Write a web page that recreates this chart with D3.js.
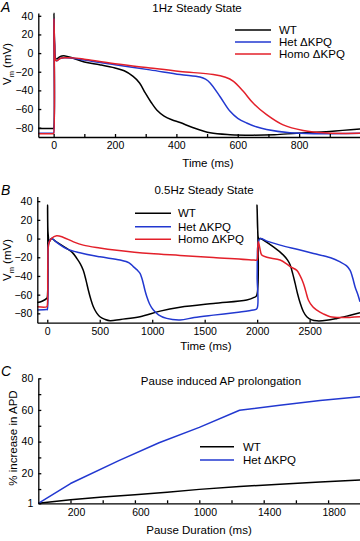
<!DOCTYPE html>
<html>
<head>
<meta charset="utf-8">
<script src="https://cdn.jsdelivr.net/npm/d3@7"></script>
<style>
  body { margin: 0; background: #fff; }
  svg { font-family: "Liberation Sans", Arial, Helvetica, sans-serif; }
  .axis path, .axis line { stroke: #000; stroke-width: 1.3; }
  .axis text { font-size: 10.5px; fill: #000; }
</style>
</head>
<body>
<script>
// ---- data: [time (ms), Vm (mV)] ----
const wtA = [[-50,-81],[-1,-81],[0,-81],[1,43],[3,10],[7,-6],[12,-6],[22,-3.5],[37,-3],[60,-5],[100,-9.5],[150,-12.5],[200,-16],[230,-19],[259,-25],[280,-32],[298,-42.5],[318,-53],[336,-61],[360,-67.5],[385,-71.5],[412,-74.5],[455,-80],[510,-85.5],[575,-87.5],[650,-88],[720,-87.5],[792,-86],[900,-84],[1000,-81.5]]
const hetA = [[-50,-86],[-1,-86],[0,-86],[1,37],[3,10],[7,-8],[12,-8],[22,-5.5],[37,-5],[75,-6],[100,-7.5],[200,-12.5],[314,-18],[412,-23],[477,-25.7],[495,-28],[510,-32],[542,-46.5],[575,-62.5],[600,-70],[629,-75],[660,-79],[694,-82],[770,-85.5],[850,-86.5],[1000,-86]]
const homoA = [[-50,-86.5],[-1,-86.5],[0,-86.5],[1,37],[3,10],[7,-8],[12,-8],[22,-5.5],[37,-5],[75,-5.4],[100,-6.5],[200,-11.5],[314,-16],[412,-19.7],[520,-23],[560,-26],[585,-30],[618,-41],[650,-53.6],[694,-66],[748,-77],[813,-83],[890,-85.7],[1000,-86]]

const wtB = [[-95,-68.5],[-50,-67],[-5,-64],[0,-63],[3,36],[8,5],[20,-3],[42,0],[80,-3],[185,-10.6],[240,-15],[280,-21],[315,-27],[343,-34],[370,-45],[391,-55],[415,-65],[439,-73],[470,-79.5],[502,-83.6],[550,-86.5],[598,-88],[700,-86.5],[884,-83.6],[1075,-77.6],[1265,-73.5],[1583,-69.4],[1901,-65.8],[1971,-63],[1995,-61],[1999,36],[2005,10],[2015,0],[2030,0],[2155,-9],[2250,-17.7],[2290,-23],[2314,-28],[2340,-38],[2362,-48],[2385,-59],[2410,-69],[2440,-78],[2473,-83.6],[2520,-87],[2569,-88],[2660,-87.5],[2760,-85.4],[2870,-82.5],[2980,-79.4]]
const hetB = [[-95,-76.5],[-5,-76],[0,-76],[6,-30],[15,-5],[40,0],[100,-5],[185,-11],[300,-15],[502,-19.5],[694,-23],[780,-26],[820,-30],[860,-34],[884,-37.3],[900,-42],[915,-48],[930,-55],[948,-62],[975,-70],[1011,-76.5],[1060,-81.5],[1138,-85.4],[1265,-87],[1400,-84.5],[1583,-81.9],[1800,-79],[1964,-76.5],[1998,-75],[2000,-40],[2010,-5],[2028,0],[2100,-3],[2219,-7],[2400,-12],[2537,-16],[2700,-20.5],[2791,-25],[2850,-29],[2886,-34],[2910,-42],[2934,-52],[2960,-60],[2980,-67.6]]
const homoB = [[-95,-73],[-5,-73],[0,-72],[5,-30],[15,-5],[40,0],[89,3],[150,1.5],[250,-3.5],[343,-7],[500,-10],[662,-12.4],[979,-16],[1265,-18],[1583,-20.2],[1971,-23],[1998,-23],[2005,-10],[2012,-3.5],[2025,-10],[2044,-17.7],[2092,-20],[2219,-23],[2280,-27],[2314,-30],[2378,-34],[2410,-40],[2441,-48],[2465,-57],[2489,-66],[2530,-73],[2569,-76.5],[2630,-80.5],[2696,-83.6],[2800,-84.5],[2980,-83.6]]

// pause duration (ms) vs % increase in APD
const wtC = [[0,1],[200,3.2],[400,5],[600,6.4],[800,8],[1000,9.8],[1250,11.6],[1500,13],[1750,14.5],[2000,15.8]]
const hetC = [[0,1],[200,13.5],[500,28],[750,39.3],[1000,49],[1250,59.8],[1500,63],[1750,66],[2000,68.4]]

const legendABC = ['WT', 'Het \u0394KPQ', 'Homo \u0394KPQ']
const colors = ['#000000', '#2238d0', '#e3202a']

const yTicksAB = [-80, -60, -40, -20, 0, 20, 40]
const xTicksA = [0, 100, 200, 300, 400, 500, 600, 700, 800, 900]
const xLabelsA = [0, 200, 400, 600, 800]
const xTicksB = [0, 500, 1000, 1500, 2000, 2500]
const xTicksC = [200, 400, 600, 800, 1000, 1200, 1400, 1600, 1800, 2000]
const xLabelsC = [200, 600, 1000, 1400, 1800]
const yTicksC = [1, 10, 20, 30, 40, 50, 60, 70, 80]
const yLabelsC = [1, 20, 40, 60, 80]

const svg = d3.select('body').append('svg')
  .attr('width', 360)
  .attr('height', 541)

const fmt = d3.format('')

function panel(cfg) {
  const x = d3.scaleLinear().domain(cfg.xd).range(cfg.xr)
  const y = d3.scaleLinear().domain(cfg.yd).range(cfg.yr)

  const line = d3.line()
    .x(d => x(d[0]))
    .y(d => y(d[1]))
    .curve(cfg.curve)

  cfg.series.forEach((s, i) => {
    svg.append('path')
      .datum(s)
      .attr('d', line)
      .attr('fill', 'none')
      .attr('stroke', colors[i])
      .attr('stroke-width', 1.5)
      .attr('stroke-linejoin', 'round')
  })

  const xa = svg.append('g')
    .attr('class', 'axis')
    .attr('transform', `translate(0,${cfg.yr[0]})`)
    .call(d3.axisBottom(x)
      .tickValues(cfg.xTicks)
      .tickSizeInner(-3)
      .tickSizeOuter(0)
      .tickPadding(5)
      .tickFormat(d => cfg.xLabels.includes(d) ? fmt(d) : ''))
  if (cfg.xShift) xa.selectAll('text').attr('dx', cfg.xShift)

  svg.append('g')
    .attr('class', 'axis')
    .attr('transform', `translate(${cfg.xr[0]},0)`)
    .call(d3.axisLeft(y)
      .tickValues(cfg.yTicks)
      .tickSizeInner(-3)
      .tickSizeOuter(0)
      .tickPadding(5)
      .tickFormat(d => cfg.yLabels.includes(d) ? fmt(d) : ''))

  // legend
  cfg.legend.rows.forEach((r, i) => {
    const ly = cfg.legend.y[i]
    svg.append('line')
      .attr('x1', cfg.legend.x1).attr('x2', cfg.legend.x2)
      .attr('y1', ly).attr('y2', ly)
      .attr('stroke', colors[i]).attr('stroke-width', 1.5)
    svg.append('text')
      .attr('x', cfg.legend.tx).attr('y', ly + 4)
      .attr('font-size', 11.5)
      .text(r)
  })

  svg.append('text')
    .attr('x', cfg.title[1]).attr('y', cfg.title[2])
    .attr('text-anchor', 'middle')
    .attr('font-size', 11.5)
    .text(cfg.title[0])

  svg.append('text')
    .attr('x', cfg.xlab[1]).attr('y', cfg.xlab[2])
    .attr('text-anchor', 'middle')
    .attr('font-size', 11.5)
    .text(cfg.xlab[0])

  const yl = svg.append('text')
    .attr('transform', `translate(${cfg.ylab[1]},${cfg.ylab[2]}) rotate(-90)`)
    .attr('text-anchor', 'middle')
    .attr('font-size', 11.5)
  if (cfg.ylab[0] === 'Vm') {
    yl.append('tspan').text('V')
    yl.append('tspan').attr('font-size', 7.5).attr('dy', 3).text('m')
    yl.append('tspan').attr('dy', -3).text(' (mV)')
  } else {
    yl.text(cfg.ylab[0])
  }

  svg.append('text')
    .attr('x', 1).attr('y', cfg.letter[1])
    .attr('font-size', 14)
    .attr('font-style', 'italic')
    .text(cfg.letter[0])
}

const smooth = d3.curveCatmullRom.alpha(0.5)

panel({
  series: [wtA, hetA, homoA],
  xd: [-50, 1000], xr: [38.3, 360.5],
  yd: [-90, 43], yr: [137, 13],
  curve: smooth,
  xTicks: xTicksA, xLabels: xLabelsA,
  yTicks: yTicksAB, yLabels: yTicksAB,
  legend: { rows: legendABC, x1: 235, x2: 271, tx: 279, y: [30, 42, 54] },
  title: ['1Hz Steady State', 197, 12],
  xlab: ['Time (ms)', 208, 167],
  ylab: ['Vm', 11, 64],
  letter: ['A', 12]
})

panel({
  series: [wtB, hetB, homoB],
  xd: [-95, 2980], xr: [37.3, 360],
  yd: [-90, 45], yr: [322.7, 196.5],
  curve: smooth,
  xTicks: xTicksB, xLabels: xTicksB,
  yTicks: yTicksAB, yLabels: yTicksAB,
  legend: { rows: legendABC, x1: 135, x2: 171, tx: 178, y: [213.3, 226.7, 239.3] },
  title: ['0.5Hz Steady State', 204, 194],
  xlab: ['Time (ms)', 206, 350],
  ylab: ['Vm', 11, 260],
  letter: ['B', 195]
})

panel({
  series: [wtC, hetC],
  xd: [0, 2000], xr: [38.3, 360.3],
  yd: [1, 80], yr: [503.3, 378.3],
  curve: d3.curveLinear,
  xTicks: xTicksC, xLabels: xLabelsC, xShift: 5.5,
  yTicks: yTicksC, yLabels: yLabelsC,
  legend: { rows: legendABC.slice(0, 2), x1: 200, x2: 234, tx: 243, y: [446.7, 460] },
  title: ['Pause induced AP prolongation', 221, 385],
  xlab: ['Pause Duration (ms)', 199, 534],
  ylab: ['% increase in APD', 17, 438],
  letter: ['C', 376]
})
</script>
</body>
</html>
